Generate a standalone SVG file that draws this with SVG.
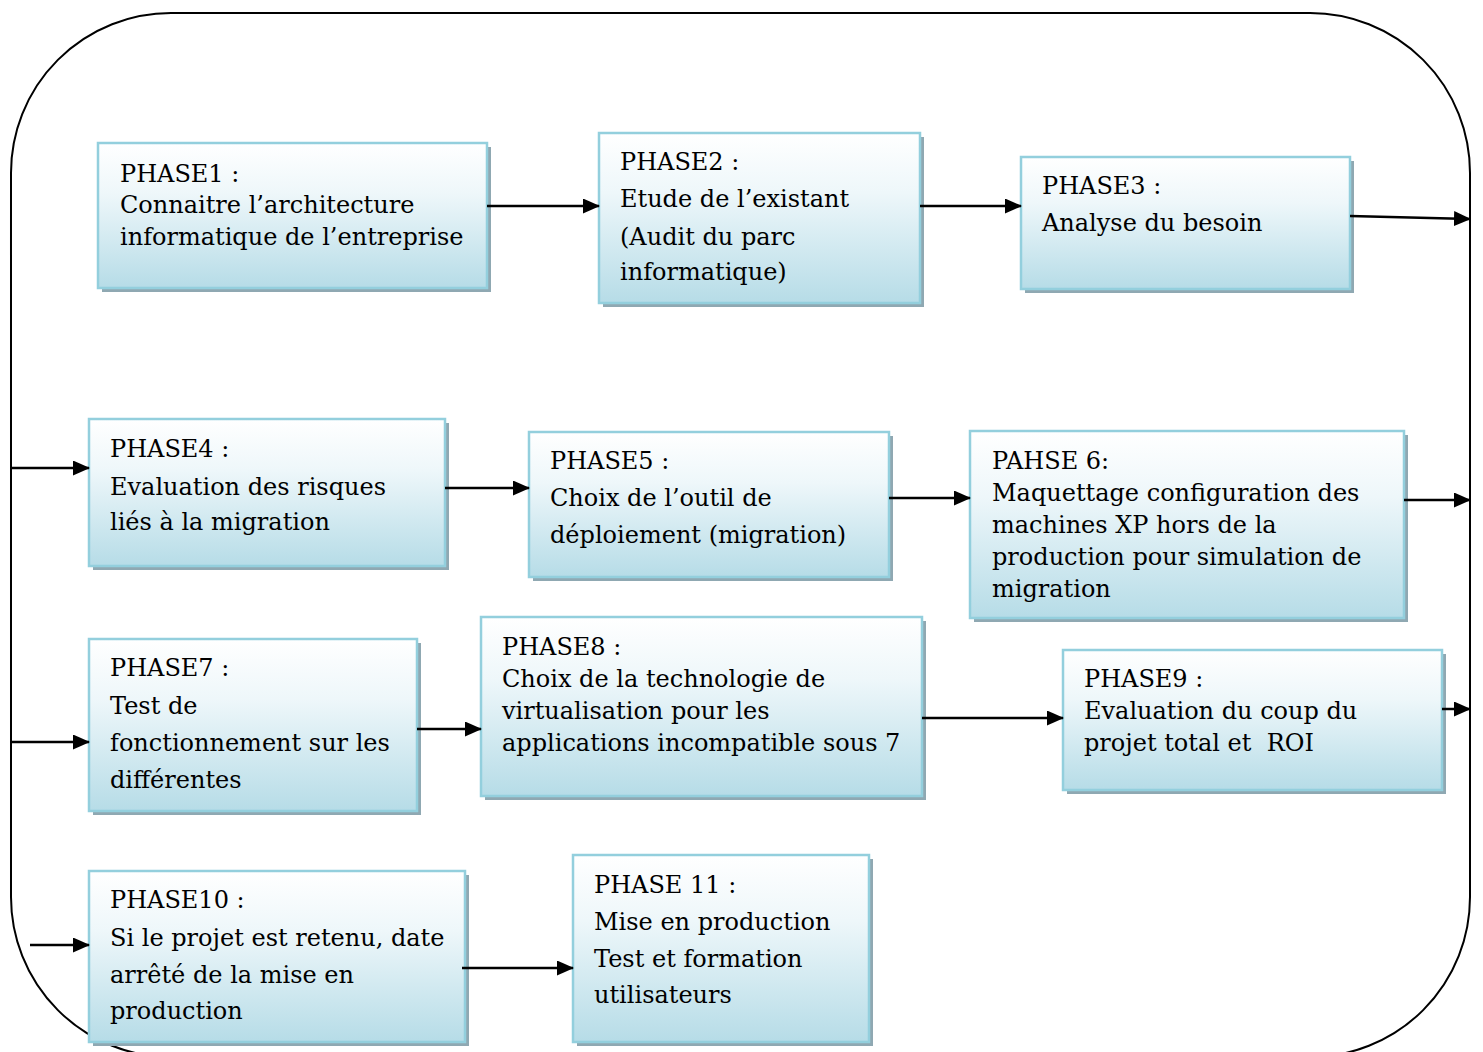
<svg xmlns="http://www.w3.org/2000/svg" width="1483" height="1052" viewBox="0 0 1483 1052">
<defs>
<linearGradient id="g" x1="0" y1="0" x2="0" y2="1">
<stop offset="0" stop-color="#ffffff"/>
<stop offset="0.35" stop-color="#eef7fa"/>
<stop offset="1" stop-color="#b6dce7"/>
</linearGradient>
<marker id="ah" markerWidth="17" markerHeight="15" refX="16" refY="7.5" orient="auto" markerUnits="userSpaceOnUse">
<path d="M0,0 L17,7.5 L0,15 Z" fill="#000"/>
</marker>
</defs>
<style>
.sh{fill:#8fa8b2}
.bx{fill:url(#g);stroke:#93cfdd;stroke-width:2.5}
.t{font-family:"DejaVu Serif","Liberation Serif",serif;font-size:24px;fill:#000}
.c{stroke:#000;stroke-width:2.5;fill:none;marker-end:url(#ah)}
</style>
<rect id="frame" x="11" y="13" width="1459" height="1044" rx="160" ry="160" fill="#fff" stroke="#000" stroke-width="2"/>
<g id="n1"><rect class="sh" x="102" y="147" width="389" height="145"/><rect class="bx" x="98" y="143" width="389" height="145"/>
<text class="t"><tspan x="120" y="182">PHASE1 :</tspan><tspan x="120" y="213">Connaitre l’architecture</tspan><tspan x="120" y="245">informatique de l’entreprise</tspan></text></g>
<g id="n2"><rect class="sh" x="603" y="137" width="321" height="170"/><rect class="bx" x="599" y="133" width="321" height="170"/>
<text class="t"><tspan x="620" y="170">PHASE2 :</tspan><tspan x="620" y="207">Etude de l’existant</tspan><tspan x="620" y="245">(Audit du parc</tspan><tspan x="620" y="280">informatique)</tspan></text></g>
<g id="n3"><rect class="sh" x="1025" y="161" width="329" height="132"/><rect class="bx" x="1021" y="157" width="329" height="132"/>
<text class="t"><tspan x="1042" y="194">PHASE3 :</tspan><tspan x="1042" y="231">Analyse du besoin</tspan></text></g>
<g id="n4"><rect class="sh" x="93" y="423" width="356" height="147"/><rect class="bx" x="89" y="419" width="356" height="147"/>
<text class="t"><tspan x="110" y="457">PHASE4 :</tspan><tspan x="110" y="495">Evaluation des risques</tspan><tspan x="110" y="530">liés à la migration</tspan></text></g>
<g id="n5"><rect class="sh" x="533" y="436" width="360" height="145"/><rect class="bx" x="529" y="432" width="360" height="145"/>
<text class="t"><tspan x="550" y="469">PHASE5 :</tspan><tspan x="550" y="506">Choix de l’outil de</tspan><tspan x="550" y="543">déploiement (migration)</tspan></text></g>
<g id="n6"><rect class="sh" x="974" y="435" width="434" height="187"/><rect class="bx" x="970" y="431" width="434" height="187"/>
<text class="t"><tspan x="992" y="469">PAHSE 6:</tspan><tspan x="992" y="501">Maquettage configuration des</tspan><tspan x="992" y="533">machines XP hors de la</tspan><tspan x="992" y="565">production pour simulation de</tspan><tspan x="992" y="597">migration</tspan></text></g>
<g id="n7"><rect class="sh" x="93" y="643" width="328" height="172"/><rect class="bx" x="89" y="639" width="328" height="172"/>
<text class="t"><tspan x="110" y="676">PHASE7 :</tspan><tspan x="110" y="714">Test de</tspan><tspan x="110" y="751">fonctionnement sur les</tspan><tspan x="110" y="788">différentes</tspan></text></g>
<g id="n8"><rect class="sh" x="485" y="621" width="441" height="179"/><rect class="bx" x="481" y="617" width="441" height="179"/>
<text class="t"><tspan x="502" y="655">PHASE8 :</tspan><tspan x="502" y="687">Choix de la technologie de</tspan><tspan x="502" y="719">virtualisation pour les</tspan><tspan x="502" y="751">applications incompatible sous 7</tspan></text></g>
<g id="n9"><rect class="sh" x="1067" y="654" width="379" height="140"/><rect class="bx" x="1063" y="650" width="379" height="140"/>
<text class="t"><tspan x="1084" y="687">PHASE9 :</tspan><tspan x="1084" y="719">Evaluation du coup du</tspan><tspan x="1084" y="751" xml:space="preserve">projet total et  ROI</tspan></text></g>
<g id="n10"><rect class="sh" x="93" y="875" width="376" height="171"/><rect class="bx" x="89" y="871" width="376" height="171"/>
<text class="t"><tspan x="110" y="908">PHASE10 :</tspan><tspan x="110" y="946">Si le projet est retenu, date</tspan><tspan x="110" y="983">arrêté de la mise en</tspan><tspan x="110" y="1019">production</tspan></text></g>
<g id="n11"><rect class="sh" x="577" y="859" width="296" height="187"/><rect class="bx" x="573" y="855" width="296" height="187"/>
<text class="t"><tspan x="594" y="893">PHASE 11 :</tspan><tspan x="594" y="930">Mise en production</tspan><tspan x="594" y="967">Test et formation</tspan><tspan x="594" y="1003">utilisateurs</tspan></text></g>
<g id="connectors">
<line class="c" x1="487" y1="206" x2="599" y2="206"/>
<line class="c" x1="920" y1="206" x2="1021" y2="206"/>
<line class="c" x1="1350" y1="216" x2="1470" y2="219"/>
<line class="c" x1="11" y1="468" x2="89" y2="468"/>
<line class="c" x1="445" y1="488" x2="529" y2="488"/>
<line class="c" x1="889" y1="498" x2="970" y2="498"/>
<line class="c" x1="1404" y1="500" x2="1470" y2="500"/>
<line class="c" x1="11" y1="742" x2="89" y2="742"/>
<line class="c" x1="417" y1="729" x2="481" y2="729"/>
<line class="c" x1="922" y1="718" x2="1063" y2="718"/>
<line class="c" x1="1442" y1="709" x2="1470" y2="709"/>
<line class="c" x1="30" y1="945" x2="89" y2="945"/>
<line class="c" x1="462" y1="968" x2="573" y2="968"/>
</g>
</svg>
